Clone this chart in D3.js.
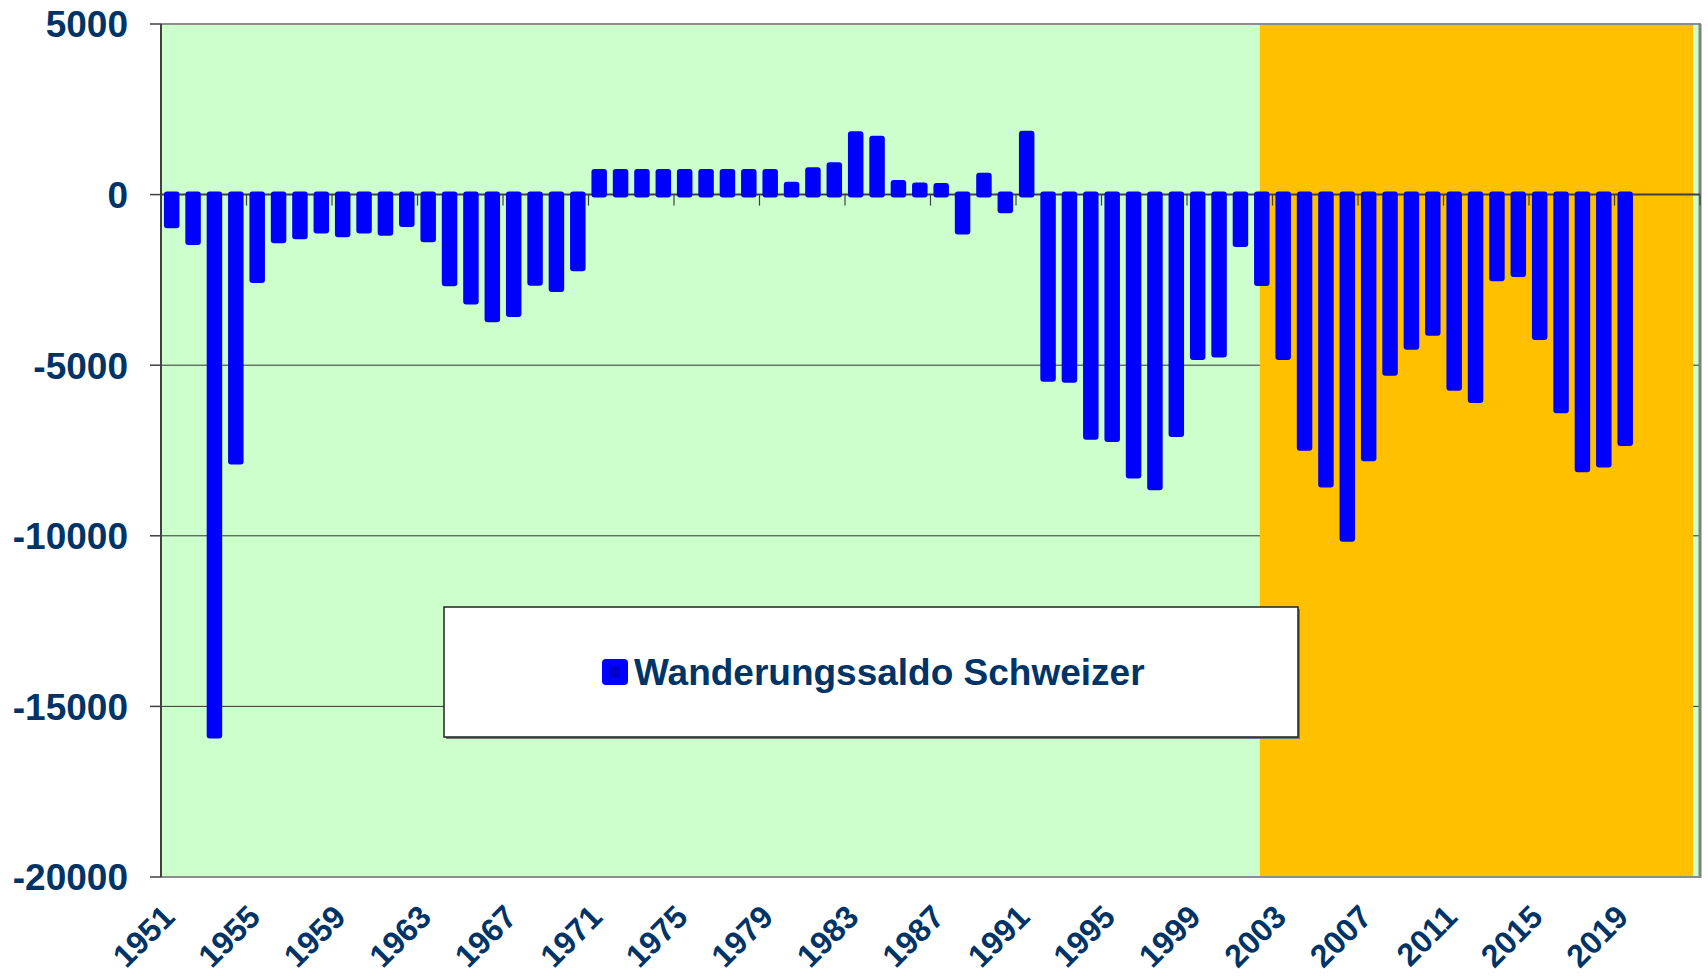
<!DOCTYPE html>
<html>
<head>
<meta charset="utf-8">
<script src="https://cdn.jsdelivr.net/npm/d3@7"></script>
<style>
  html, body { margin: 0; padding: 0; background: #fff; }
  svg { display: block; font-family: "Liberation Sans", Arial, sans-serif; font-weight: bold; }
</style>
</head>
<body>
<svg id="chart" width="1708" height="976"></svg>
<script>
// years on the axis (last three have no data yet)
const years = d3.range(1951, 2023)
const tickYears = [1951, 1955, 1959, 1963, 1967, 1971, 1975, 1979, 1983, 1987, 1991, 1995, 1999, 2003, 2007, 2011, 2015, 2019]
const yTicks = [5000, 0, -5000, -10000, -15000, -20000]
const seriesName = 'Wanderungssaldo Schweizer'

// Wanderungssaldo Schweizer 1951..2019
const saldo = [
  -900, -1390, -15850, -7820, -2500, -1340, -1220, -1050, -1160, -1050,
  -1120, -860, -1310, -2600, -3130, -3650, -3500, -2580, -2770, -2160,
  660, 660, 660, 660, 660, 660, 660, 660, 660, 290,
  710, 860, 1770, 1640, 340, 270, 250, -1080, 550, -460,
  1780, -5400, -5430, -7100, -7160, -8230, -8580, -7020, -4760, -4690,
  -1450, -2590, -4760, -7420, -8500, -10090, -7730, -5220, -4460, -4050,
  -5660, -6020, -2450, -2330, -4170, -6320, -8050, -7910, -7280
]
const data = saldo.map((v, i) => ({ year: years[i], value: v }))
const highlightFrom = 2002  // Personenfreizügigkeit

var svg = d3.select('#chart')
// note: "top" is taken by window.top, so plot edges get their own names
var pL = 161, pR = 1700, pT = 24, pB = 877

var x = d3.scaleBand().domain(years).range([pL, pR]).padding(0)
var y = d3.scaleLinear().domain([-20000, 5000]).range([pB, pT])
var bw = x.bandwidth()
var navy = '#003366'

// plot background
svg.append('rect')
  .attr('x', pL).attr('y', pT)
  .attr('width', pR - pL).attr('height', pB - pT)
  .attr('fill', '#ccffcc')

// gridlines
svg.append('g').selectAll('line')
  .data(yTicks.filter(d => d < 0 && d > -20000))
  .join('line')
  .attr('x1', pL).attr('x2', pR)
  .attr('y1', d => y(d)).attr('y2', d => y(d))
  .attr('stroke', '#333').attr('stroke-width', 1)

// orange period
var oX0 = x(highlightFrom) + bw / 2 - 2
var oX1 = x(2022) + bw - 7
svg.append('rect')
  .attr('x', oX0)
  .attr('y', pT)
  .attr('width', oX1 - oX0)
  .attr('height', pB - pT + 1)
  .attr('fill', '#ffc000')

// frame
svg.append('line').attr('x1', pL).attr('x2', pR + 1).attr('y1', pT).attr('y2', pT)
  .attr('stroke', '#8c8c8c').attr('stroke-width', 2)
svg.append('line').attr('x1', pR).attr('x2', pR).attr('y1', pT).attr('y2', pB + 1)
  .attr('stroke', '#808080').attr('stroke-width', 3)
svg.append('line').attr('x1', pL).attr('x2', pR + 1).attr('y1', pB).attr('y2', pB)
  .attr('stroke', '#8c8c8c').attr('stroke-width', 2)

// y axis
svg.append('line').attr('x1', pL).attr('x2', pL).attr('y1', pT).attr('y2', pB)
  .attr('stroke', '#404040').attr('stroke-width', 2)
var ya = svg.append('g')
ya.selectAll('line').data(yTicks).join('line')
  .attr('x1', pL - 11).attr('x2', pL)
  .attr('y1', d => y(d)).attr('y2', d => y(d))
  .attr('stroke', '#404040').attr('stroke-width', 1.5)
ya.selectAll('text').data(yTicks).join('text')
  .attr('x', 128).attr('y', d => y(d))
  .attr('dy', '0.36em')
  .attr('text-anchor', 'end')
  .attr('font-size', 37)
  .attr('fill', navy)
  .text(d => d)

// zero line with category ticks
svg.append('line').attr('x1', pL).attr('x2', pR).attr('y1', y(0)).attr('y2', y(0))
  .attr('stroke', '#404040').attr('stroke-width', 2)
svg.append('g').selectAll('line')
  .data(tickYears.concat([2023]))
  .join('line')
  .attr('x1', d => d === 2023 ? pR : x(d)).attr('x2', d => d === 2023 ? pR : x(d))
  .attr('y1', y(0)).attr('y2', y(0) + 11)
  .attr('stroke', '#404040').attr('stroke-width', 1.2)

// bars
svg.append('g').selectAll('rect')
  .data(data)
  .join('rect')
  .attr('x', d => x(d.year) + (bw - 15.5) / 2)
  .attr('width', 15.5)
  .attr('y', d => y(Math.max(d.value, 0)) - 3)
  .attr('height', d => Math.abs(y(d.value) - y(0)) + 6)
  .attr('rx', 3)
  .attr('fill', '#0000ff')

// x labels
svg.append('g').selectAll('text')
  .data(tickYears)
  .join('text')
  .attr('transform', d => `translate(${x(d) + bw / 2 + 5},${pB + 42}) rotate(-45)`)
  .attr('text-anchor', 'end')
  .attr('font-size', 32)
  .attr('fill', navy)
  .text(d => d)

// legend
var lg = svg.append('g')
lg.append('rect').attr('x', 446).attr('y', 609).attr('width', 854).attr('height', 130)
  .attr('fill', '#777')
lg.append('rect').attr('x', 444).attr('y', 607).attr('width', 854).attr('height', 130)
  .attr('fill', '#fff').attr('stroke', '#222').attr('stroke-width', 1.5)
lg.append('rect').attr('x', 602).attr('y', 659).attr('width', 26).attr('height', 26)
  .attr('rx', 4).attr('fill', '#0000ff')
lg.append('rect').attr('x', 610).attr('y', 667).attr('width', 10).attr('height', 10)
  .attr('fill', '#0000cc')
lg.append('text').attr('x', 634).attr('y', 685)
  .attr('font-size', 37).attr('fill', navy)
  .text(seriesName)
</script>
</body>
</html>
